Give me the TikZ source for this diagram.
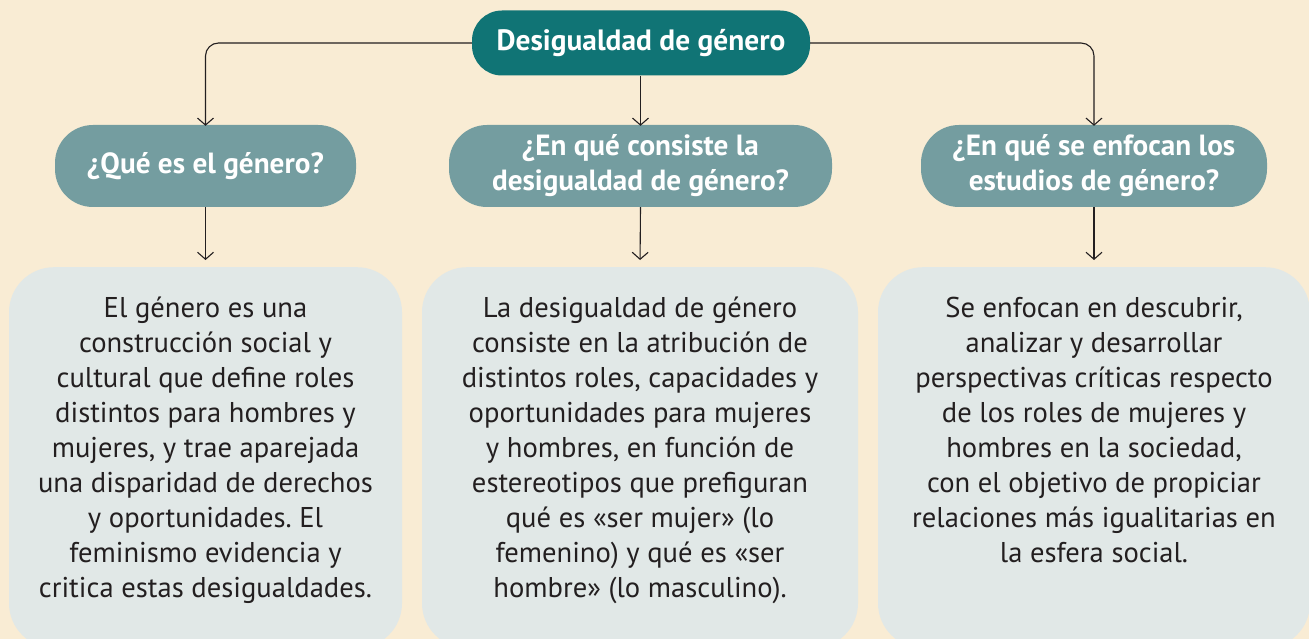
\documentclass[tikz,border=0pt]{standalone}
\usepackage{fontspec}
\setmainfont{PT Sans}
\usetikzlibrary{arrows.meta}
\frenchspacing
\definecolor{bg}{RGB}{249,236,212}
\definecolor{topc}{RGB}{16,116,117}
\definecolor{midc}{RGB}{116,157,160}
\definecolor{boxc}{RGB}{225,232,231}
\definecolor{ink}{RGB}{35,31,32}
\tikzset{
  topbox/.style={fill=topc, rounded corners=30pt, inner sep=0pt, text=white, font=\bfseries\fontsize{29.4}{35}\selectfont, align=center},
  qbox/.style={fill=midc, rounded corners=38pt, inner sep=0pt, text=white, font=\bfseries\fontsize{29.2}{35}\selectfont, align=center},
  infobox/.style={fill=boxc, rounded corners=45pt, inner sep=0pt},
  infotext/.style={anchor=north, inner sep=0pt, text=ink, font=\fontsize{28.6}{35}\selectfont, align=center},
  conn/.style={draw=ink, line width=1.1pt, -{Straight Barb[length=7pt,width=16pt,line width=1.1pt]}},
}
\begin{document}
\begin{tikzpicture}[x=1pt,y=-1pt]
\fill[bg] (0,0) rectangle (1309,639);
\useasboundingbox (0,0) rectangle (1309,639);
\begin{scope}
\clip (0,0) rectangle (1309,639);
% top node
\node[topbox, minimum width=338pt, minimum height=65pt] (top) at (641,43) {Desigualdad de género};
% question nodes
\node[qbox, minimum width=301pt, minimum height=82pt] (q1) at (205.5,166) {¿Qué es el género?};
\node[qbox, minimum width=383pt, minimum height=82pt] (q2) at (640.5,166) {¿En qué consiste la\\desigualdad de género?};
\node[qbox, minimum width=346pt, minimum height=82pt] (q3) at (1094,166) {¿En qué se enfocan los\\estudios de género?};
% info boxes
\node[infobox, minimum width=393pt, minimum height=381pt, anchor=north] (b1) at (205.5,267) {};
\node[infobox, minimum width=436pt, minimum height=381pt, anchor=north] (b2) at (640,267) {};
\node[infobox, minimum width=432pt, minimum height=381pt, anchor=north] (b3) at (1094,267) {};
\node[infotext] (t1) at (205.5,296.5) {El género es una\\construcción social y\\cultural que define roles\\distintos para hombres y\\mujeres, y trae aparejada\\una disparidad de derechos\\y oportunidades. El\\feminismo evidencia y\\critica estas desigualdades.};
\node[infotext] (t2) at (640,296.5) {La desigualdad de género\\consiste en la atribución de\\distintos roles, capacidades y\\oportunidades para mujeres\\y hombres, en función de\\estereotipos que prefiguran\\qué es «ser mujer» (lo\\femenino) y qué es «ser\\hombre» (lo masculino).};
\node[infotext] (t3) at (1094,296.5) {Se enfocan en descubrir,\\analizar y desarrollar\\perspectivas críticas respecto\\de los roles de mujeres y\\hombres en la sociedad,\\con el objetivo de propiciar\\relaciones más igualitarias en\\la esfera social.};
% connectors
\draw[conn, rounded corners=13pt] (top.west) -| ([yshift=-1pt]q1.north);
\draw[conn, rounded corners=13pt] (top.east) -| ([yshift=-1pt]q3.north);
\draw[conn] (top.south -| q2.north) -- ([yshift=-1pt]q2.north);
\draw[conn, shorten >=7pt] (q1.south) -- (b1.north);
\draw[conn, shorten >=7pt] (q2.south) -- (b2.north);
\draw[conn, shorten >=7pt] (q3.south) -- (b3.north);
\end{scope}
\end{tikzpicture}
\end{document}
